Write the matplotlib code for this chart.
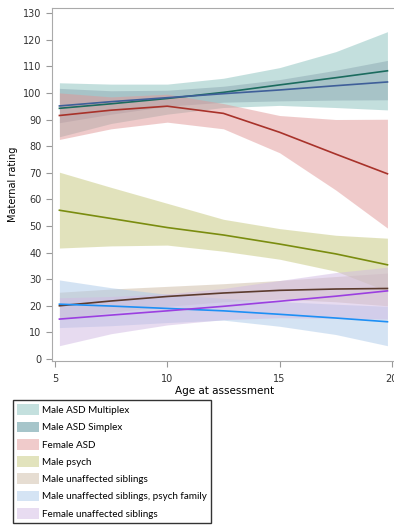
import matplotlib.pyplot as plt
from matplotlib.patches import Patch

age = [5.2, 7.5, 10, 12.5, 15, 17.5, 19.8]

multiplex_fit = [94.2, 95.9, 97.9, 100.2, 103.0, 105.7, 108.3]
multiplex_hi = [103.8, 103.3, 103.3, 105.5, 109.5, 115.5, 123.0]
multiplex_lo = [83.5, 88.5, 92.0, 94.5, 95.3, 94.5, 93.6]

simplex_fit = [95.1, 96.7, 98.2, 99.7, 101.1, 102.7, 104.1]
simplex_hi = [101.7, 100.8, 101.0, 102.5, 105.0, 108.5, 112.2]
simplex_lo = [88.8, 92.0, 95.0, 96.5, 97.0, 97.3, 97.4]

fasd_fit = [91.5, 93.5, 95.0, 92.3, 85.2, 77.0, 69.6]
fasd_hi = [100.0, 98.5, 99.5, 96.0, 91.5, 90.0, 90.1]
fasd_lo = [82.5, 86.5, 89.0, 86.5, 77.5, 63.5, 49.2]

psych_fit = [55.9, 52.8, 49.4, 46.6, 43.2, 39.5, 35.4]
psych_hi = [70.2, 64.5, 58.5, 52.5, 49.0, 46.5, 45.4]
psych_lo = [41.7, 42.5, 42.8, 40.5, 37.5, 33.0, 25.5]

msib_fit = [20.0, 21.8, 23.5, 24.8, 25.8, 26.3, 26.5]
msib_hi = [25.1, 26.3, 27.3, 28.3, 29.5, 31.0, 32.3]
msib_lo = [14.9, 17.5, 19.8, 21.5, 22.5, 21.5, 20.0]

msibp_fit = [20.6, 19.9, 19.0, 18.1, 16.8, 15.4, 14.0]
msibp_hi = [29.7, 26.8, 24.3, 22.8, 21.6, 20.6, 19.8]
msibp_lo = [11.8, 12.5, 13.7, 14.6, 12.3, 9.2, 5.0]

fsib_fit = [15.0, 16.5, 18.1, 19.8, 21.7, 23.6, 25.6]
fsib_hi = [23.0, 23.5, 24.5, 26.5, 29.5, 32.5, 34.5]
fsib_lo = [5.0, 9.5, 12.8, 14.8, 15.5, 15.3, 15.0]

labels = ["Male ASD Multiplex", "Male ASD Simplex", "Female ASD", "Male psych",
          "Male unaffected siblings", "Male unaffected siblings, psych family",
          "Female unaffected siblings"]
fits = [multiplex_fit, simplex_fit, fasd_fit, psych_fit, msib_fit, msibp_fit, fsib_fit]
his = [multiplex_hi, simplex_hi, fasd_hi, psych_hi, msib_hi, msibp_hi, fsib_hi]
los = [multiplex_lo, simplex_lo, fasd_lo, psych_lo, msib_lo, msibp_lo, fsib_lo]
band_colors = ["#89c1bd", "#8ca8b2", "#e19797", "#c5c77b", "#cdbba5", "#abc9e9", "#d1b9e3"]
legend_colors = ["#c4e0de", "#a6c5ca", "#f0cbcb", "#e2e3bd", "#e6ddd2", "#d5e4f4", "#e8dcf1"]
line_colors = ["#1b6b5e", "#3f5f99", "#a8322a", "#7a8c0f", "#5c3b2e", "#1e8ff5", "#9b3fe0"]

fig = plt.figure(figsize=(3.94, 5.29), dpi=100)
ax = fig.add_axes([52 / 394, 168 / 529, 346 / 394, 353 / 529])

for lo, hi, c in zip(los, his, band_colors):
    ax.fill_between(age, lo, hi, color=c, alpha=0.5, linewidth=0)
for fit, c in zip(fits, line_colors):
    ax.plot(age, fit, color=c, linewidth=1.2)

ax.set_xlim(4.87, 20.27)
ax.set_ylim(-0.75, 131.9)
ax.set_xticks([5, 10, 15, 20])
ax.set_yticks(range(0, 131, 10))
ax.tick_params(labelsize=7, color="#999999", labelcolor="#333333", length=4, width=0.8)
ax.tick_params(axis="x", pad=5)
for side in ["left", "bottom", "top"]:
    ax.spines[side].set_color("#aaaaaa")
ax.spines["right"].set_visible(False)
ax.set_xlabel("Age at assessment", fontsize=7.5, labelpad=2)
ax.set_ylabel("Maternal rating", fontsize=7, labelpad=4)

handles = [Patch(facecolor=c, edgecolor="none") for c in legend_colors]
leg = fig.legend(handles, labels, loc="upper left", bbox_to_anchor=(13 / 394, 129 / 529),
                 borderaxespad=0, frameon=True, fancybox=False, edgecolor="black",
                 prop={"family": "Lato", "size": 7.1}, handlelength=2.2, handleheight=1.3,
                 labelspacing=0.66, handletextpad=0.25, borderpad=0.45)
leg.get_frame().set_linewidth(1.0)

plt.savefig("out.png", dpi=100)
